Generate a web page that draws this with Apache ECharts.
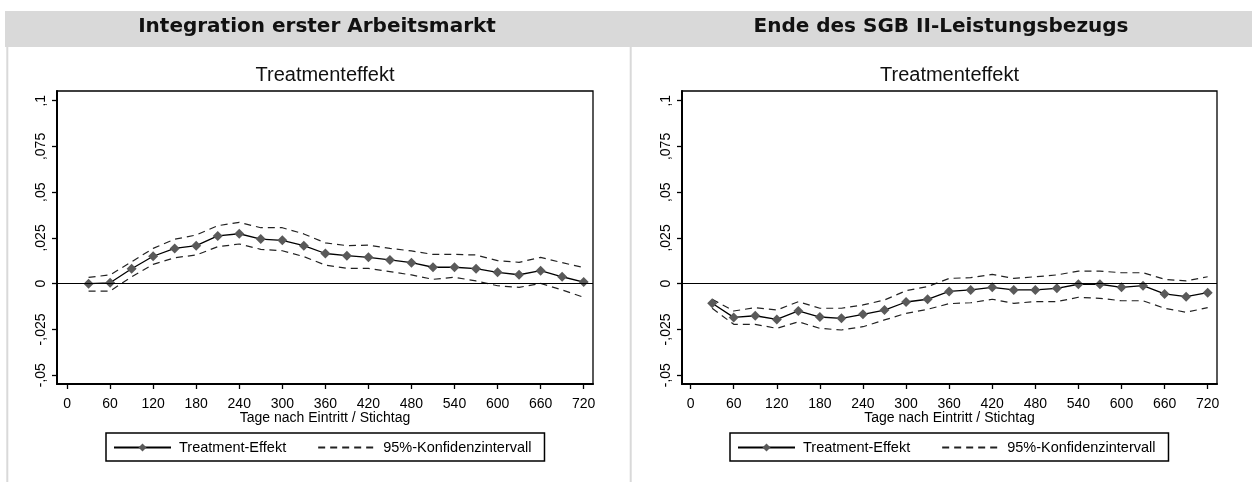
<!DOCTYPE html>
<html><head><meta charset="utf-8">
<script src="https://cdn.jsdelivr.net/npm/echarts@6/dist/echarts.min.js"></script>
<style>html,body{margin:0;padding:0;background:#fff}#c{width:1252px;height:482px}</style>
</head><body><div id="c"></div>
<script>
// ---- data ----
const days = [30, 60, 90, 120, 150, 180, 210, 240, 270, 300, 330, 360, 390, 420, 450, 480, 510, 540, 570, 600, 630, 660, 690, 720];

// Panel 1: Integration erster Arbeitsmarkt
const effA   = [0.0000, 0.0005, 0.0082, 0.0150, 0.0193, 0.0208, 0.0261, 0.0273, 0.0244, 0.0237, 0.0208, 0.0165, 0.0153, 0.0144, 0.0130, 0.0115, 0.0090, 0.0090, 0.0082, 0.0062, 0.0049, 0.0071, 0.0038, 0.0009];
const upperA = [0.0035, 0.0048, 0.0120, 0.0193, 0.0243, 0.0266, 0.0317, 0.0335, 0.0306, 0.0306, 0.0272, 0.0223, 0.0208, 0.0211, 0.0193, 0.0179, 0.0160, 0.0160, 0.0157, 0.0126, 0.0117, 0.0144, 0.0115, 0.0088];
const lowerA = [-0.0040, -0.0040, 0.0038, 0.0106, 0.0142, 0.0157, 0.0202, 0.0217, 0.0188, 0.0180, 0.0148, 0.0102, 0.0084, 0.0084, 0.0066, 0.0048, 0.0024, 0.0035, 0.0015, -0.0011, -0.0020, 0.0002, -0.0034, -0.0074];

// Panel 2: Ende des SGB II-Leistungsbezugs
const effB   = [-0.0107, -0.0184, -0.0175, -0.0195, -0.0149, -0.0182, -0.0189, -0.0167, -0.0144, -0.0100, -0.0085, -0.0042, -0.0034, -0.0020, -0.0034, -0.0034, -0.0025, -0.0003, -0.0003, -0.0020, -0.0011, -0.0056, -0.0071, -0.0049];
const upperB = [-0.0085, -0.0149, -0.0131, -0.0144, -0.0098, -0.0134, -0.0134, -0.0116, -0.0089, -0.0038, -0.0016, 0.0029, 0.0033, 0.0051, 0.0029, 0.0038, 0.0048, 0.0069, 0.0069, 0.0060, 0.0060, 0.0024, 0.0015, 0.0038];
const lowerB = [-0.0134, -0.0222, -0.0222, -0.0244, -0.0208, -0.0244, -0.0253, -0.0235, -0.0198, -0.0162, -0.0140, -0.0109, -0.0104, -0.0085, -0.0107, -0.0098, -0.0098, -0.0074, -0.0080, -0.0093, -0.0093, -0.0134, -0.0156, -0.0131];

const xTicks = [0, 60, 120, 180, 240, 300, 360, 420, 480, 540, 600, 660, 720];
const yTicks = [-0.05, -0.025, 0, 0.025, 0.05, 0.075, 0.1];
const yTickLabels = ["-,05", "-,025", "0", ",025", ",05", ",075", ",1"];

const panelHeaders = ["Integration erster Arbeitsmarkt", "Ende des SGB II-Leistungsbezugs"];
const plotTitle = "Treatmenteffekt";
const xTitle = "Tage nach Eintritt / Stichtag";
const nameEffect = "Treatment-Effekt";
const nameCI = "95%-Konfidenzintervall";

// ---- chart ----
const FONT = "Liberation Sans, Arial, sans-serif";
const pair = arr => days.map((d, i) => [d, arr[i]]);
const yLabel = v => {
  for (let i = 0; i < yTicks.length; i++) if (Math.abs(yTicks[i] - v) < 1e-9) return yTickLabels[i];
  return "";
};

const grids = [
  { left: 57, top: 91, width: 536, height: 293, xmin: -14, center: 325, legendLeft: 106 },
  { left: 682, top: 91, width: 535, height: 293, xmin: -12, center: 949.5, legendLeft: 730 }
];

function xAxis(i) {
  return {
    type: 'value', gridIndex: i, min: grids[i].xmin, max: 733,
    name: xTitle, nameLocation: 'middle', nameGap: 27, nameMoveOverlap: false,
    nameTextStyle: { fontFamily: FONT, fontSize: 14, color: '#000' },
    axisLine: { show: true, onZero: false, lineStyle: { color: '#000', width: 2 } },
    axisTick: { show: true, customValues: xTicks, length: 5, lineStyle: { color: '#000', width: 1.3 } },
    axisLabel: { show: true, customValues: xTicks, fontFamily: FONT, fontSize: 14, color: '#000', margin: 13 },
    splitLine: { show: false }
  };
}
function yAxis(i) {
  return {
    type: 'value', gridIndex: i, min: -0.0548, max: 0.1053,
    axisLine: { show: true, onZero: false, lineStyle: { color: '#000', width: 2 } },
    axisTick: { show: true, customValues: yTicks, length: 5, lineStyle: { color: '#000', width: 1.3 } },
    axisLabel: { show: true, customValues: yTicks, rotate: 90, formatter: yLabel, fontFamily: FONT, fontSize: 14, color: '#000', margin: 9 },
    splitLine: { show: false }
  };
}
function seriesFor(i, eff, up, lo) {
  const ci = arr => ({
    type: 'line', name: nameCI, xAxisIndex: i, yAxisIndex: i, data: pair(arr),
    symbol: 'none', showSymbol: false, z: 3,
    lineStyle: { color: '#222', width: 1.2, type: [7, 5] }, itemStyle: { color: '#222' }
  });
  return [
    ci(up), ci(lo),
    {
      type: 'line', name: nameEffect, xAxisIndex: i, yAxisIndex: i, data: pair(eff),
      symbol: 'diamond', symbolSize: 10, z: 4,
      lineStyle: { color: '#000', width: 1.3 }, itemStyle: { color: '#5a5a5a' },
      markLine: {
        silent: true, symbol: 'none', label: { show: false },
        lineStyle: { color: '#000', width: 1.2, type: 'solid' },
        data: [{ yAxis: 0 }]
      }
    }
  ];
}

const chart = echarts.init(document.getElementById('c'), null, { renderer: 'canvas' });
chart.setOption({
  animation: false,
  backgroundColor: '#fff',
  graphic: [
    { type: 'rect', shape: { x: 5, y: 11, width: 1247, height: 36 }, style: { fill: '#d9d9d9' }, z: 0 },
    { type: 'rect', shape: { x: 6.3, y: 47, width: 2, height: 435 }, style: { fill: '#d9d9d9' }, z: 0 },
    { type: 'rect', shape: { x: 629.7, y: 47, width: 2, height: 435 }, style: { fill: '#d9d9d9' }, z: 0 }
  ],
  title: [
    { text: panelHeaders[0], left: 317, top: 17, textAlign: 'center', padding: 0,
      textStyle: { fontFamily: 'DejaVu Sans', fontWeight: 'bold', fontSize: 20, color: '#111' } },
    { text: panelHeaders[1], left: 941, top: 17, textAlign: 'center', padding: 0,
      textStyle: { fontFamily: 'DejaVu Sans', fontWeight: 'bold', fontSize: 20, color: '#111' } },
    { text: plotTitle, left: grids[0].center, top: 65, textAlign: 'center', padding: 0,
      textStyle: { fontFamily: FONT, fontWeight: 'normal', fontSize: 20, color: '#111' } },
    { text: plotTitle, left: grids[1].center, top: 65, textAlign: 'center', padding: 0,
      textStyle: { fontFamily: FONT, fontWeight: 'normal', fontSize: 20, color: '#111' } }
  ],
  legend: grids.map((g) => ({
    data: [nameEffect, { name: nameCI, itemStyle: { opacity: 0 } }],
    left: g.legendLeft, top: 433, orient: 'horizontal',
    padding: [7, 13, 6, 7], itemGap: 31, itemWidth: 57, itemHeight: 10,
    borderColor: '#000', borderWidth: 1.5, backgroundColor: '#fff',
    textStyle: { fontFamily: FONT, fontSize: 14.5, color: '#000', padding: [0, 0, 0, 3] },
    selectedMode: false
  })),
  grid: grids.map(g => ({ left: g.left, top: g.top, width: g.width, height: g.height, show: true, borderColor: '#000', borderWidth: 1.3, backgroundColor: 'transparent' })),
  xAxis: [xAxis(0), xAxis(1)],
  yAxis: [yAxis(0), yAxis(1)],
  series: [].concat(seriesFor(0, effA, upperA, lowerA), seriesFor(1, effB, upperB, lowerB))
});
</script>
</body></html>
